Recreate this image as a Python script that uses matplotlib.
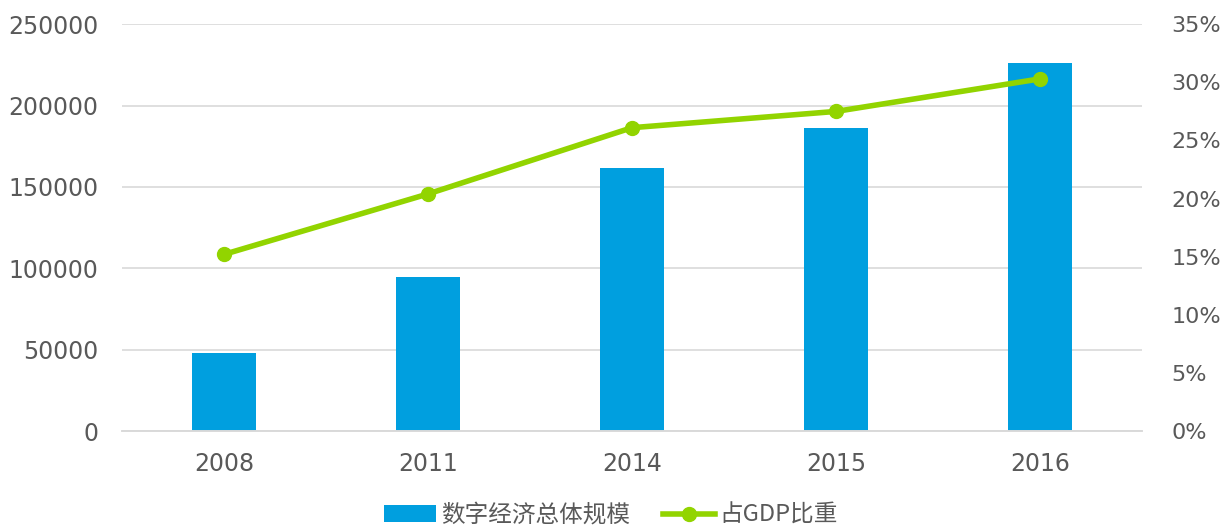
import matplotlib
matplotlib.use('Agg')
import matplotlib.pyplot as plt
import numpy as np

# chart data
years = ['2008', '2011', '2014', '2015', '2016']
scale = [48000, 94600, 161500, 186000, 226000]   # 数字经济总体规模
gdp_share = [15.2, 20.4, 26.1, 27.5, 30.3]        # 占GDP比重 (%)
left_ticks = [0, 50000, 100000, 150000, 200000, 250000]
right_ticks = [0, 5, 10, 15, 20, 25, 30, 35]

BAR_COLOR = '#009FDF'
LINE_COLOR = '#92D400'
TEXT_COLOR = '#595959'
GRID_COLOR = '#D9D9D9'

plt.rcParams['font.family'] = ['DejaVu Sans', 'Noto Sans CJK SC']

fig = plt.figure(figsize=(12.22, 5.27), dpi=100)
ax = fig.add_axes([0.0998, 0.182, 0.8347, 0.772])
ax2 = ax.twinx()

x = np.arange(len(years))
bars = ax.bar(x, scale, width=0.31, color=BAR_COLOR, label='数字经济总体规模', zorder=2)
line, = ax2.plot(x, gdp_share, color=LINE_COLOR, lw=4, marker='o', ms=10,
                 label='占GDP比重', zorder=3)

ax.set_xlim(-0.5, len(years) - 0.5)
ax.set_ylim(0, 250000)
ax2.set_ylim(0, 35)
ax.set_yticks(left_ticks)
ax.set_yticklabels([str(v) for v in left_ticks])
ax2.set_yticks(right_ticks)
ax2.set_yticklabels([f'{v}%' for v in right_ticks])
ax.set_xticks(x)
ax.set_xticklabels(years)

ax.yaxis.grid(True, color=GRID_COLOR, lw=1.2, zorder=0)
ax.set_axisbelow(True)

for a in (ax, ax2):
    for s in ('top', 'left', 'right'):
        a.spines[s].set_visible(False)
    a.spines['bottom'].set_color(GRID_COLOR)
    a.spines['bottom'].set_linewidth(1.2)
    a.tick_params(length=0, labelsize=17, labelcolor=TEXT_COLOR)

ax.tick_params(axis='y', pad=17)
ax.tick_params(axis='x', pad=15)
ax2.tick_params(axis='y', pad=21, labelsize=16)

leg = fig.legend([bars, line], ['数字经济总体规模', '占GDP比重'],
                 loc='lower center', bbox_to_anchor=(0.5, -0.04), ncol=2,
                 frameon=False, handlelength=2.2, handletextpad=0.2,
                 columnspacing=1.4,
                 prop={'family': ['Noto Sans CJK SC', 'DejaVu Sans'], 'size': 17})
for t in leg.get_texts():
    t.set_color(TEXT_COLOR)

fig.savefig('out.png', dpi=100)
